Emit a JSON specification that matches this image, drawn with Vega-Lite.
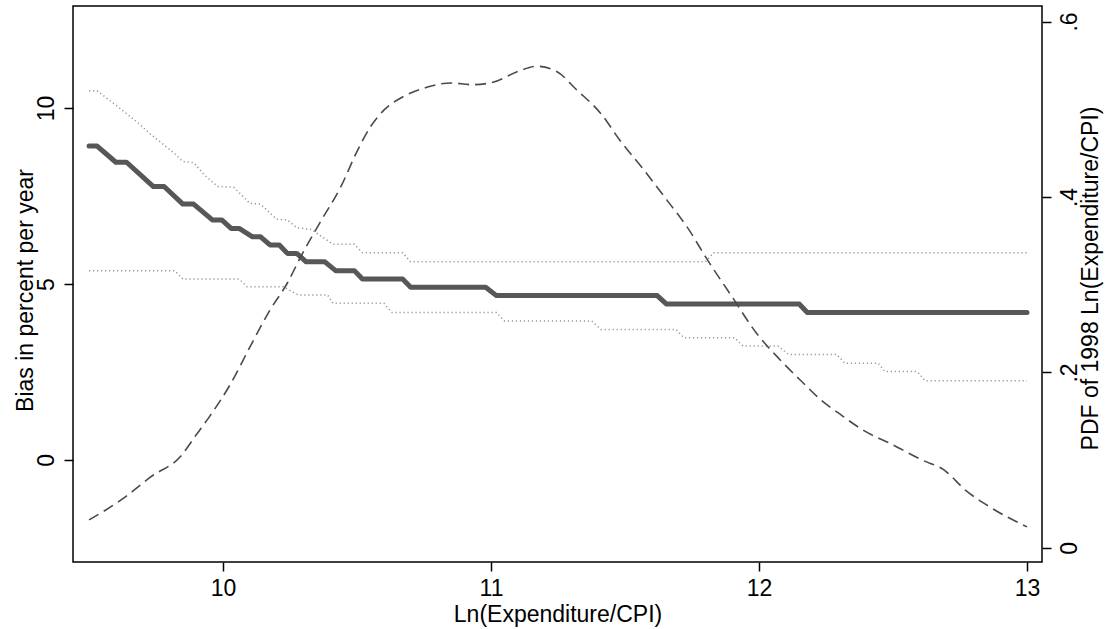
{
  "$schema": "https://vega.github.io/schema/vega-lite/v6.json",
  "autosize": {"type": "none"},
  "padding": {"left": 73, "top": 6, "right": 67, "bottom": 67},
  "width": 969,
  "height": 556,
  "background": "white",
  "config": {
    "view": {"stroke": "#000000", "strokeWidth": 1.5},
    "font": "Liberation Sans",
    "axis": {
      "grid": false,
      "domain": false,
      "ticks": true,
      "tickColor": "#000000",
      "tickWidth": 1.5,
      "tickSize": 9,
      "labelFontSize": 23,
      "labelColor": "#000000",
      "labelFont": "Liberation Sans",
      "titleFont": "Liberation Sans",
      "titleFontSize": 23,
      "titleFontWeight": "normal",
      "titleColor": "#000000"
    }
  },
  "datasets": {
    "est": [
      {"x": 9.5, "y": 8.92}, {"x": 9.53, "y": 8.92}, {"x": 9.6, "y": 8.46}, {"x": 9.64, "y": 8.46},
      {"x": 9.74, "y": 7.77}, {"x": 9.78, "y": 7.77}, {"x": 9.85, "y": 7.27}, {"x": 9.89, "y": 7.27},
      {"x": 9.96, "y": 6.82}, {"x": 9.995, "y": 6.82}, {"x": 10.03, "y": 6.58}, {"x": 10.06, "y": 6.58},
      {"x": 10.11, "y": 6.34}, {"x": 10.14, "y": 6.34}, {"x": 10.175, "y": 6.11}, {"x": 10.21, "y": 6.11},
      {"x": 10.24, "y": 5.87}, {"x": 10.275, "y": 5.87}, {"x": 10.31, "y": 5.63}, {"x": 10.38, "y": 5.63},
      {"x": 10.42, "y": 5.38}, {"x": 10.49, "y": 5.38}, {"x": 10.52, "y": 5.14}, {"x": 10.67, "y": 5.14},
      {"x": 10.7, "y": 4.91}, {"x": 10.98, "y": 4.91}, {"x": 11.02, "y": 4.67}, {"x": 11.62, "y": 4.67},
      {"x": 11.655, "y": 4.43}, {"x": 12.15, "y": 4.43}, {"x": 12.18, "y": 4.19}, {"x": 13.0, "y": 4.19}
    ],
    "upper": [
      {"x": 9.5, "y": 10.49}, {"x": 9.53, "y": 10.49}, {"x": 9.58, "y": 10.2}, {"x": 9.63, "y": 9.9},
      {"x": 9.68, "y": 9.6}, {"x": 9.73, "y": 9.25}, {"x": 9.78, "y": 8.95}, {"x": 9.82, "y": 8.7},
      {"x": 9.85, "y": 8.48}, {"x": 9.89, "y": 8.45}, {"x": 9.93, "y": 8.1}, {"x": 9.98, "y": 7.77},
      {"x": 10.04, "y": 7.75}, {"x": 10.1, "y": 7.29}, {"x": 10.14, "y": 7.27}, {"x": 10.2, "y": 6.84},
      {"x": 10.24, "y": 6.82}, {"x": 10.275, "y": 6.6}, {"x": 10.33, "y": 6.55}, {"x": 10.41, "y": 6.13},
      {"x": 10.49, "y": 6.13}, {"x": 10.52, "y": 5.89}, {"x": 10.67, "y": 5.89}, {"x": 10.7, "y": 5.63},
      {"x": 11.8, "y": 5.63}, {"x": 11.83, "y": 5.89}, {"x": 13.0, "y": 5.89}
    ],
    "lower": [
      {"x": 9.5, "y": 5.38}, {"x": 9.82, "y": 5.38}, {"x": 9.85, "y": 5.14}, {"x": 10.06, "y": 5.14},
      {"x": 10.09, "y": 4.92}, {"x": 10.225, "y": 4.92}, {"x": 10.28, "y": 4.69}, {"x": 10.39, "y": 4.69},
      {"x": 10.41, "y": 4.45}, {"x": 10.6, "y": 4.45}, {"x": 10.63, "y": 4.19}, {"x": 11.02, "y": 4.19},
      {"x": 11.05, "y": 3.95}, {"x": 11.375, "y": 3.95}, {"x": 11.41, "y": 3.71}, {"x": 11.69, "y": 3.71},
      {"x": 11.72, "y": 3.47}, {"x": 11.91, "y": 3.47}, {"x": 11.94, "y": 3.24}, {"x": 12.07, "y": 3.24},
      {"x": 12.11, "y": 3.0}, {"x": 12.29, "y": 3.0}, {"x": 12.32, "y": 2.75}, {"x": 12.445, "y": 2.75},
      {"x": 12.47, "y": 2.51}, {"x": 12.59, "y": 2.51}, {"x": 12.62, "y": 2.25}, {"x": 13.0, "y": 2.25}
    ],
    "pdf": [
      {"x": 9.5, "pdf": 0.032}, {"x": 9.63, "pdf": 0.057}, {"x": 9.73, "pdf": 0.081}, {"x": 9.84, "pdf": 0.104},
      {"x": 9.9, "pdf": 0.129}, {"x": 9.95, "pdf": 0.15}, {"x": 10.03, "pdf": 0.188}, {"x": 10.1, "pdf": 0.229},
      {"x": 10.175, "pdf": 0.271}, {"x": 10.24, "pdf": 0.302}, {"x": 10.29, "pdf": 0.332}, {"x": 10.36, "pdf": 0.37},
      {"x": 10.44, "pdf": 0.412}, {"x": 10.5, "pdf": 0.452}, {"x": 10.55, "pdf": 0.48}, {"x": 10.6, "pdf": 0.499},
      {"x": 10.67, "pdf": 0.514}, {"x": 10.76, "pdf": 0.525}, {"x": 10.85, "pdf": 0.53}, {"x": 10.93, "pdf": 0.528},
      {"x": 11.01, "pdf": 0.531}, {"x": 11.1, "pdf": 0.543}, {"x": 11.17, "pdf": 0.549}, {"x": 11.245, "pdf": 0.543},
      {"x": 11.32, "pdf": 0.522}, {"x": 11.41, "pdf": 0.495}, {"x": 11.48, "pdf": 0.465}, {"x": 11.57, "pdf": 0.431},
      {"x": 11.655, "pdf": 0.397}, {"x": 11.74, "pdf": 0.362}, {"x": 11.8, "pdf": 0.332}, {"x": 11.9, "pdf": 0.286},
      {"x": 11.99, "pdf": 0.245}, {"x": 12.08, "pdf": 0.214}, {"x": 12.165, "pdf": 0.188}, {"x": 12.23, "pdf": 0.169},
      {"x": 12.3, "pdf": 0.153}, {"x": 12.39, "pdf": 0.134}, {"x": 12.49, "pdf": 0.119}, {"x": 12.61, "pdf": 0.1},
      {"x": 12.69, "pdf": 0.089}, {"x": 12.77, "pdf": 0.066}, {"x": 12.86, "pdf": 0.047}, {"x": 13.0, "pdf": 0.024}
    ]
  },
  "encoding": {
    "x": {
      "field": "x",
      "type": "quantitative",
      "scale": {"domain": [9.44, 13.056], "nice": false, "zero": false},
      "axis": {
        "values": [10, 11, 12, 13],
        "title": "Ln(Expenditure/CPI)",
        "labelPadding": 6,
        "labelBaseline": "top",
        "titleX": 484.5,
        "titleY": 59,
        "titleBaseline": "alphabetic",
        "titleAlign": "center"
      }
    }
  },
  "layer": [
    {
      "encoding": {
        "y": {
          "field": "y",
          "type": "quantitative",
          "scale": {"domain": [-2.9, 12.9], "nice": false, "zero": false},
          "axis": {
            "orient": "left",
            "values": [0, 5, 10],
            "labelAngle": -90,
            "labelAlign": "center",
            "labelBaseline": "alphabetic",
            "labelPadding": 11,
            "title": "Bias in percent per year",
            "titleAngle": -90,
            "titleAlign": "center",
            "titleBaseline": "alphabetic",
            "titleX": -41,
            "titleY": 284
          }
        }
      },
      "layer": [
        {"data": {"name": "lower"}, "mark": {"type": "line", "color": "#959595", "strokeWidth": 1.5, "strokeDash": [1.2, 2.8]}},
        {"data": {"name": "upper"}, "mark": {"type": "line", "color": "#959595", "strokeWidth": 1.5, "strokeDash": [1.2, 2.8]}},
        {"data": {"name": "est"}, "mark": {"type": "line", "color": "#575757", "strokeWidth": 5, "strokeCap": "round", "strokeJoin": "round"}}
      ]
    },
    {
      "data": {"name": "pdf"},
      "mark": {"type": "line", "color": "#4a4a4a", "strokeWidth": 1.6, "strokeDash": [11, 6], "interpolate": "monotone"},
      "encoding": {
        "y": {
          "field": "pdf",
          "type": "quantitative",
          "scale": {"domain": [-0.016, 0.6177], "nice": false, "zero": false},
          "axis": {
            "orient": "right",
            "values": [0, 0.2, 0.4, 0.6],
            "labelExpr": "datum.value == 0 ? '0' : '.' + format(datum.value * 10, 'd')",
            "labelAngle": -90,
            "labelAlign": "center",
            "labelBaseline": "top",
            "labelPadding": 7,
            "title": "PDF of 1998 Ln(Expenditure/CPI)",
            "titleAngle": -90,
            "titleAlign": "center",
            "titleBaseline": "alphabetic",
            "titleX": 55,
            "titleY": 272
          }
        }
      }
    }
  ],
  "resolve": {"scale": {"y": "independent"}}
}
